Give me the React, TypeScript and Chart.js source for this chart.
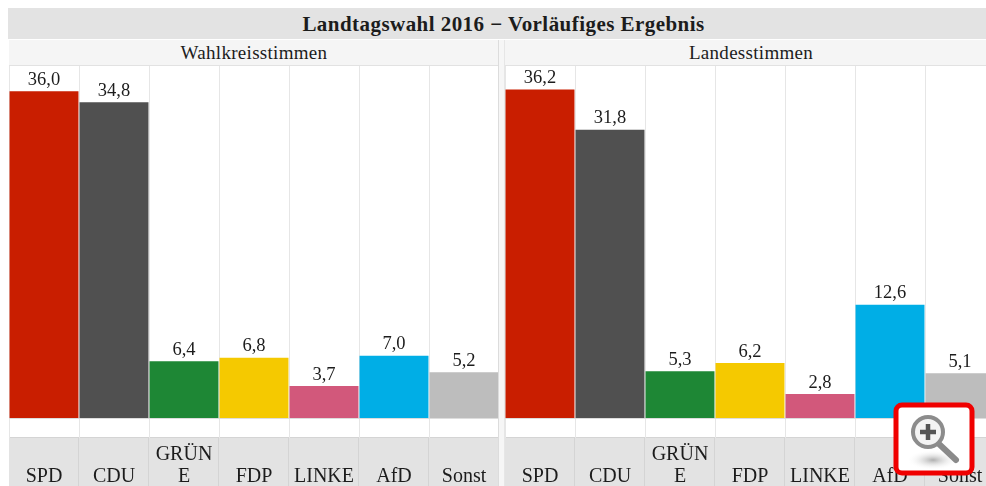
import React, { useEffect, useRef } from "react";
import { Chart, registerables } from "chart.js";

Chart.register(...registerables);

const titleText = "Landtagswahl 2016 − Vorläufiges Ergebnis";
const panelTitles = ["Wahlkreisstimmen", "Landesstimmen"];
const categories = ["SPD", "CDU", "GRÜNE", "FDP", "LINKE", "AfD", "Sonst"];
const wahlkreisValues = [36.0, 34.8, 6.4, 6.8, 3.7, 7.0, 5.2];
const landesValues = [36.2, 31.8, 5.3, 6.2, 2.8, 12.6, 5.1];
const partyColors = ["#c91e00", "#505050", "#1e8735", "#f5c900", "#d2587b", "#00aee6", "#bdbdbd"];

const SERIF = '"Liberation Serif", serif';
const TEXT = "#1c1c1c";

const panelPlugin = {
  id: "panelDecor",
  beforeDraw(chart: any) {
    const { ctx, scales, height, width } = chart;
    const top = scales.x.top + 20;
    ctx.save();
    ctx.fillStyle = "#e3e3e3";
    ctx.fillRect(0, top, width, height - top);
    ctx.fillStyle = "#d4d4d4";
    ctx.fillRect(0, top - 1, width, 1);
    categories.forEach((_, i) => {
      if (i === 0) return;
      const x = (scales.x.getPixelForValue(i - 1) + scales.x.getPixelForValue(i)) / 2;
      ctx.fillRect(Math.round(x) - 1, top, 1, height - top);
    });
    ctx.restore();
  },
  afterDatasetsDraw(chart: any) {
    const { ctx } = chart;
    const meta = chart.getDatasetMeta(0);
    const values = chart.data.datasets[0].data as number[];
    ctx.save();
    ctx.font = `18.5px ${SERIF}`;
    ctx.fillStyle = TEXT;
    ctx.textAlign = "center";
    ctx.textBaseline = "bottom";
    meta.data.forEach((bar: any, i: number) => {
      ctx.fillText(values[i].toFixed(1).replace(".", ","), bar.x, bar.y - 2);
    });
    ctx.restore();
  },
};

function Panel({ values, left }: { values: number[]; left: number }) {
  const ref = useRef<HTMLCanvasElement>(null);
  useEffect(() => {
    const chart = new Chart(ref.current!, {
      type: "bar",
      data: {
        labels: categories,
        datasets: [
          {
            data: values,
            backgroundColor: partyColors,
            barPercentage: 1,
            categoryPercentage: 0.985,
          },
        ],
      },
      plugins: [panelPlugin],
      options: {
        animation: false,
        responsive: false,
        layout: { padding: 0 },
        plugins: { legend: { display: false }, tooltip: { enabled: false }, title: { display: false } },
        scales: {
          y: { display: false, min: 0.18, max: 38.78 },
          x: {
            afterFit(scale: any) {
              scale.height = 68;
            },
            border: { display: true, color: "#dddddd" },
            grid: { color: "#e6e6e6", lineWidth: 1, tickLength: 20, tickColor: "#e6e6e6" },
            ticks: {
              autoSkip: false,
              maxRotation: 0,
              minRotation: 0,
              padding: 6,
              color: TEXT,
              font: { family: SERIF, size: 20, lineHeight: 1.1 },
              callback(_v: any, i: number) {
                const name = categories[i];
                return name === "GRÜNE" ? [name.slice(0, 4), name.slice(4)] : ["", name];
              },
            },
          },
        },
      },
    } as any);
    return () => chart.destroy();
  }, []);
  return (
    <canvas
      ref={ref}
      width={490}
      height={420}
      style={{ position: "absolute", left, top: 66, width: 490, height: 420, display: "block" }}
    />
  );
}

function ZoomBadge() {
  return (
    <svg
      width={82}
      height={74}
      viewBox="0 0 82 74"
      style={{ position: "absolute", left: 893, top: 402 }}
    >
      <defs>
        <radialGradient id="sh">
          <stop offset="0" stopColor="#9a9a9a" stopOpacity="0.8" />
          <stop offset="1" stopColor="#ffffff" stopOpacity="0" />
        </radialGradient>
      </defs>
      <rect x={3} y={3} width={76} height={68} rx={6} fill="#ffffff" stroke="#f00000" strokeWidth={5} />
      <ellipse cx={40} cy={58} rx={26} ry={10} fill="url(#sh)" />
      <line x1={46} y1={42} x2={63} y2={58} stroke="#8a8a8a" strokeWidth={6} strokeLinecap="round" />
      <circle cx={35} cy={30} r={15} fill="#f4f4f4" stroke="#8c8c8c" strokeWidth={4} />
      <path d="M35 22v16M27 30h16" stroke="#555555" strokeWidth={4.5} />
    </svg>
  );
}

export default function App() {
  return (
    <div style={{ position: "fixed", left: 0, top: 0, width: 986, height: 486, overflow: "hidden", background: "#fff", fontFamily: SERIF, color: TEXT, filter: "blur(0.5px)" }}>
      <div style={{ position: "absolute", left: 8, top: 8, width: 991, height: 31, background: "#e3e3e3", textAlign: "center", lineHeight: "32px", fontWeight: 700, fontSize: 21, letterSpacing: 0.45 }}>
        {titleText}
      </div>
      <div style={{ position: "absolute", left: 9, top: 40, width: 490, height: 25, background: "#f5f5f5", borderBottom: "1px solid #e2e2e2", textAlign: "center", lineHeight: "26px", fontSize: 19, letterSpacing: 0.3 }}>
        {panelTitles[0]}
      </div>
      <div style={{ position: "absolute", left: 504, top: 40, width: 494, height: 25, background: "#f5f5f5", borderBottom: "1px solid #e2e2e2", textAlign: "center", lineHeight: "26px", fontSize: 19, letterSpacing: 0.3 }}>
        {panelTitles[1]}
      </div>
      <Panel values={wahlkreisValues} left={8.5} />
      <Panel values={landesValues} left={505} />
      <div style={{ position: "absolute", left: 498, top: 40, width: 5, height: 446, background: "#f6f6f6", borderLeft: "1px solid #dcdcdc", borderRight: "1px solid #e6e6e6" }} />
      <ZoomBadge />
    </div>
  );
}
